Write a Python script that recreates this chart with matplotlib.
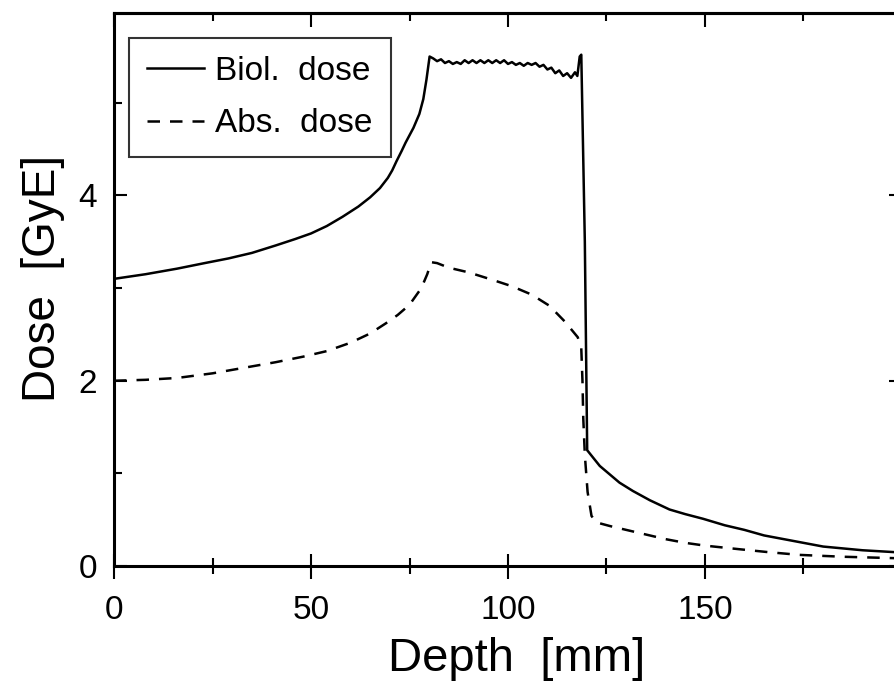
import matplotlib
matplotlib.use("Agg")
import matplotlib.pyplot as plt
from matplotlib.ticker import MultipleLocator, FixedLocator

plt.rcParams['font.family'] = ['Liberation Sans', 'DejaVu Sans']

# Biological dose (solid)
biol_x = [0, 8, 16, 23, 29, 35, 41, 46, 50, 54, 58, 62, 65, 67.5, 69.5, 70.6, 71.7, 73,
          74, 76, 77.5, 78.5, 79.3, 80.1,
          81, 82, 83, 84, 85, 86, 87, 88, 89, 90, 91, 92, 93, 94, 95, 96, 97, 98, 99,
          100, 101, 102, 103, 104, 105, 106, 107, 108, 109, 110, 111, 112, 113, 114,
          115, 116, 117, 117.6, 118.2, 118.6,
          119.5, 120.1, 121.6, 123.3, 125.8, 128.3, 131.7, 136, 141, 145, 149.5, 155,
          160, 165, 170, 175, 180, 185, 190, 196, 200]
biol_y = [3.10, 3.15, 3.21, 3.27, 3.32, 3.38, 3.46, 3.53, 3.59, 3.67, 3.77, 3.88, 3.98,
          4.08, 4.19, 4.27, 4.37, 4.48, 4.57, 4.73, 4.88, 5.04, 5.25, 5.50,
          5.48, 5.45, 5.47, 5.43, 5.45, 5.42, 5.44, 5.42, 5.46, 5.43, 5.46, 5.43, 5.46,
          5.43, 5.46, 5.43, 5.46, 5.43, 5.46, 5.42, 5.44, 5.41, 5.43, 5.40, 5.43, 5.41,
          5.43, 5.39, 5.41, 5.36, 5.38, 5.32, 5.35, 5.29, 5.32, 5.27, 5.33, 5.29, 5.50,
          5.52,
          3.50, 1.25, 1.17, 1.08, 0.99, 0.90, 0.81, 0.71, 0.61, 0.56, 0.51, 0.44,
          0.39, 0.33, 0.29, 0.25, 0.21, 0.19, 0.17, 0.155, 0.145]

# Absorbed dose (dashed)
abs_x = [0, 8, 16, 25, 33, 41, 48, 54, 60, 65, 69, 72, 75, 78, 79.5, 80.5, 82, 85, 90,
         96, 101, 106, 110.5, 114.4, 117.7, 118.6, 118.9, 119.1, 119.5, 120.2, 121.2,
         122.5, 126, 130, 134, 140, 145, 150, 159, 166, 174, 185, 197, 200]
abs_y = [2.00, 2.01, 2.03, 2.08, 2.14, 2.20, 2.26, 2.32, 2.41, 2.51, 2.62, 2.71, 2.82,
         3.00, 3.15, 3.28, 3.27, 3.22, 3.17, 3.09, 3.02, 2.93, 2.81, 2.64, 2.47, 2.35,
         2.00, 1.60, 1.20, 0.80, 0.54, 0.47, 0.43, 0.39, 0.35, 0.29, 0.25, 0.22, 0.18,
         0.15, 0.12, 0.10, 0.086, 0.083]

labels = ["Biol.  dose", "Abs.  dose"]
x_label = "Depth  [mm]"
y_label = "Dose  [GyE]"
x_major = [0, 50, 100, 150]
x_minor = [25, 75, 125, 175]

fig = plt.figure(figsize=(8.95, 6.84), dpi=100)
ax = fig.add_axes([0.1274, 0.1725, 0.8804, 0.8085])

ax.plot(biol_x, biol_y, color='black', lw=1.8, label=labels[0])
ax.plot(abs_x, abs_y, color='black', lw=1.8, dashes=(5, 4), label=labels[1])

ax.set_xlim(0, 200)
ax.set_ylim(0, 5.97)

for s in ax.spines.values():
    s.set_linewidth(2.2)

ax.xaxis.set_major_locator(FixedLocator(x_major))
ax.xaxis.set_minor_locator(FixedLocator(x_minor))
ax.yaxis.set_major_locator(MultipleLocator(2))
ax.yaxis.set_minor_locator(MultipleLocator(1))

ax.tick_params(axis='x', which='major', direction='inout', length=18, width=1.5,
               labelsize=24, pad=12, top=False)
ax.tick_params(axis='x', which='minor', direction='inout', length=11, width=1.5, top=False)
ax.tick_params(axis='y', which='major', direction='in', length=9.5, width=1.5,
               labelsize=24, pad=12, right=True)
ax.tick_params(axis='y', which='minor', direction='in', length=6, width=1.5, right=True)

sec = ax.secondary_xaxis('top')
sec.xaxis.set_major_locator(FixedLocator(x_major))
sec.xaxis.set_minor_locator(FixedLocator(x_minor))
sec.tick_params(which='major', direction='in', length=10, width=1.5, labeltop=False)
sec.tick_params(which='minor', direction='in', length=6, width=1.5)
sec.spines['top'].set_linewidth(2.2)

ax.set_xlabel(x_label, fontsize=34)
ax.set_ylabel(y_label, fontsize=33)
ax.xaxis.set_label_coords(0.511, -0.128)
ax.yaxis.set_label_coords(-0.062, 0.52)

leg = ax.legend(loc='upper left', bbox_to_anchor=(0.019, 0.955), borderaxespad=0,
                fontsize=24, frameon=True, fancybox=False, edgecolor='black',
                handlelength=1.7, handletextpad=0.35, labelspacing=0.64,
                borderpad=0.54)
leg.get_frame().set_linewidth(1.5)

fig.savefig("out.png", dpi=100)
